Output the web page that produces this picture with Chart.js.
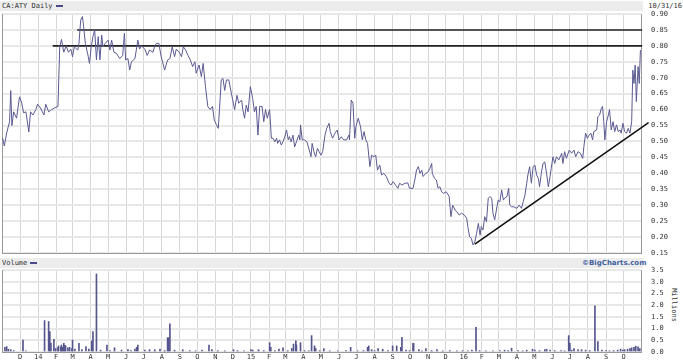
<!DOCTYPE html>
<html>
<head>
<meta charset="utf-8">
<script src="https://cdn.jsdelivr.net/npm/chart.js@4.4.1/dist/chart.umd.min.js"></script>
<style>
  body { margin:0; background:#fff; width:683px; height:360px; overflow:hidden; position:relative; font-family:"DejaVu Sans Mono", monospace; }
  .band { position:absolute; left:0; width:643px; height:10px; background:#ececec; }
  .txt { position:absolute; font-size:7px; color:#333; line-height:10px; white-space:nowrap; }
  .key { display:inline-block; width:7px; height:2px; background:#4a4a8a; vertical-align:middle; margin-left:3px; }
  canvas { position:absolute; left:0; }
</style>
</head>
<body>
<div class="band" style="top:1px"></div>
<div class="txt" style="left:2px;top:1px">CA:ATY Daily<span class="key"></span></div>
<div class="txt" style="right:1px;top:1px">10/31/16</div>
<div class="band" style="top:258px"></div>
<div class="txt" style="left:2px;top:258px">Volume<span class="key"></span></div>
<div class="txt" style="left:582px;top:258px;color:#3f5f9f;font-family:'DejaVu Sans';font-weight:bold;">©BigCharts.com</div>
<div class="txt" style="left:657px;top:300px;transform:rotate(90deg);transform-origin:center;">Millions</div>

<canvas id="price" width="683" height="258" style="top:0"></canvas>
<canvas id="volume" width="683" height="96" style="top:264px"></canvas>

<script>
// day 0 = 2013-10-31, last day = 2016-10-31
const startDate = Date.UTC(2013, 9, 31);
const totalDays = 1096;

// month tick labels, starting Dec 2013
const monthLabels = ['D','14','F','M','A','M','J','J','A','S','O','N',
                     'D','15','F','M','A','M','J','J','A','S','O','N',
                     'D','16','F','M','A','M','J','J','A','S','O'];

// close prices (days since start, value)
const closeDays = [1,4,8,13,15,17,20,25,30,34,37,41,46,49,53,58,61,66,72,75,80,85,90,96,
  99,102,106,110,114,118,121,124,128,130,132,135,138,140,143,148,150,153,156,159,162,165,168,171,173,177,
  182,185,188,192,196,202,207,210,212,216,219,222,228,233,236,239,245,249,253,259,262,265,269,273,279,284,
  288,292,296,299,304,308,311,315,319,323,327,331,333,338,342,345,349,353,357,361,364,368,371,373,376,379,
  382,385,389,393,399,403,406,411,413,416,419,422,426,430,433,436,439,442,446,449,452,455,459,462,465,468,
  471,473,476,479,482,485,488,491,493,496,499,502,505,509,511,512,515,519,523,527,530,532,535,538,541,544,
  547,550,554,557,561,563,567,571,575,578,582,586,591,595,596,599,602,605,607,611,615,618,621,624,627,631,
  634,638,641,644,648,651,655,659,664,667,671,675,679,682,686,691,696,699,705,708,711,714,717,720,722,727,
  731,734,737,738,742,745,748,751,754,757,762,767,770,773,777,780,784,788,793,797,799,802,805,808,811,814,
  817,820,822,825,828,831,834,837,840,842,845,848,851,854,857,860,862,866,869,871,874,878,883,887,891,894,
  897,900,902,905,908,911,914,917,920,922,925,928,931,934,937,940,942,945,948,951,955,960,962,965,968,973,
  977,981,984,988,992,996,998,1001,1004,1007,1010,1013,1015,1020,1022,1025,1028,1030,1032,1034,1037,1040,
  1042,1045,1048,1051,1054,1057,1060,1062,1065,1068,1071,1074,1077,1080,1082,1084,1086,1088,1091,1093,1095];
const closes = [0.511,0.486,0.527,0.562,0.66,0.55,0.593,0.573,0.64,0.62,0.59,0.593,0.53,0.593,0.583,0.60,0.617,0.605,0.583,0.617,0.593,0.60,0.605,0.61,
  0.797,0.82,0.78,0.80,0.78,0.79,0.766,0.797,0.79,0.787,0.808,0.881,0.892,0.86,0.808,0.766,0.745,0.797,0.829,0.85,0.756,0.829,0.756,0.834,0.797,0.808,
  0.818,0.787,0.818,0.78,0.777,0.76,0.77,0.84,0.756,0.76,0.724,0.75,0.76,0.818,0.79,0.80,0.79,0.77,0.787,0.78,0.80,0.808,0.808,0.766,0.724,0.756,
  0.76,0.797,0.766,0.79,0.78,0.766,0.797,0.787,0.77,0.756,0.735,0.75,0.714,0.74,0.703,0.745,0.672,0.61,0.60,0.61,0.567,0.552,0.541,0.60,0.693,0.698,
  0.66,0.693,0.693,0.655,0.60,0.645,0.62,0.63,0.60,0.573,0.614,0.593,0.672,0.635,0.593,0.61,0.52,0.61,0.61,0.562,0.60,0.573,0.60,0.51,0.51,0.499,
  0.51,0.494,0.505,0.489,0.499,0.515,0.536,0.505,0.515,0.499,0.52,0.483,0.499,0.52,0.505,0.552,0.505,0.505,0.499,0.473,0.452,0.494,0.468,0.452,0.478,0.468,
  0.457,0.468,0.52,0.541,0.557,0.531,0.51,0.526,0.536,0.505,0.515,0.505,0.505,0.52,0.505,0.63,0.62,0.51,0.546,0.573,0.546,0.505,0.531,0.505,0.494,0.421,
  0.457,0.452,0.457,0.41,0.426,0.395,0.40,0.39,0.369,0.363,0.374,0.363,0.353,0.369,0.363,0.369,0.37,0.353,0.353,0.379,0.41,0.421,0.40,0.41,0.39,0.40,
  0.405,0.416,0.431,0.40,0.384,0.379,0.353,0.358,0.342,0.337,0.342,0.327,0.264,0.30,0.285,0.28,0.269,0.275,0.269,0.259,0.233,0.201,0.196,0.175,0.185,0.212,
  0.243,0.206,0.233,0.222,0.264,0.248,0.322,0.327,0.322,0.275,0.254,0.285,0.316,0.311,0.348,0.316,0.322,0.327,0.353,0.30,0.295,0.295,0.29,0.30,0.29,0.311,
  0.332,0.369,0.395,0.421,0.369,0.421,0.426,0.395,0.384,0.358,0.40,0.431,0.436,0.40,0.358,0.39,0.416,0.452,0.431,0.452,0.442,0.463,0.431,0.468,0.447,0.473,
  0.463,0.473,0.452,0.468,0.463,0.447,0.484,0.526,0.51,0.52,0.526,0.505,0.531,0.536,0.578,0.583,0.604,0.61,0.567,0.505,0.562,0.583,
  0.60,0.536,0.562,0.531,0.552,0.531,0.536,0.526,0.557,0.531,0.526,0.541,0.526,0.562,0.724,0.682,0.74,0.625,0.735,0.682,0.787];

// daily volume, millions
const volDays = [5,8,11,15,20,36,41,73,80,82,84,89,92,96,97,101,102,104,106,108,109,113,116,120,121,125,132,137,144,149,154,156,162,169,180,185,193,205,216,221,228,231,233,245,253,262,271,279,284,286,288,296,310,322,332,343,355,360,370,382,
  397,404,415,427,430,440,449,459,461,468,475,482,490,497,500,504,505,512,519,526,531,536,538,545,552,562,576,590,598,610,620,627,629,634,639,645,653,662,670,677,684,686,693,699,705,706,715,720,727,737,746,756,
  768,780,790,799,806,813,819,830,842,854,862,868,874,885,893,900,910,914,922,931,934,940,948,959,965,972,974,977,981,988,994,1001,1008,1017,1022,1029,1036,1042,1049,1056,1061,1065,1068,1073,1077,1080,1084,1087,1091,1094];
const volumes = [0.2,0.23,0.12,0.1,0.06,0.51,0.05,1.34,1.3,0.87,0.38,0.54,0.15,0.2,0.26,0.22,0.3,0.2,0.37,0.28,0.25,0.18,0.2,0.15,0.51,0.12,0.37,0.1,0.23,0.12,0.47,0.87,3.33,0.08,0.3,0.06,0.18,0.08,0.1,0.06,0.12,0.2,0.3,0.08,0.1,0.1,0.12,0.06,0.61,0.61,1.2,0.08,0.1,0.06,0.05,0.08,0.3,0.1,0.06,0.05,
  0.1,0.06,0.05,0.1,0.08,0.1,0.06,0.4,0.2,0.06,0.12,0.18,0.06,0.15,0.34,0.48,0.3,0.4,0.06,0.05,0.7,0.26,0.15,0.06,0.15,0.05,0.05,0.06,0.2,0.05,0.06,0.2,0.26,0.1,0.06,0.15,0.12,0.06,0.26,0.26,0.2,0.63,0.08,0.06,0.37,0.37,0.1,0.05,0.15,0.06,0.1,0.05,
  0.06,0.05,0.06,0.05,0.08,1.05,0.06,0.05,0.05,0.06,0.08,0.06,0.16,0.06,0.05,0.08,0.12,0.08,0.06,0.1,0.12,0.08,0.06,0.06,0.05,0.7,0.37,0.08,0.15,0.1,0.1,0.08,0.06,1.97,0.44,0.08,0.06,0.05,0.06,0.08,0.12,0.08,0.1,0.12,0.15,0.18,0.2,0.25,0.22,0.15];

// drawn trend lines
const resistanceLevels = [0.85, 0.80];
const resistanceFrom = [129, 87];
const resistanceTo = 1098;
const supportDays = [811, 1109];
const supportValues = [0.178, 0.559];

const monthDays = monthLabels.map((m, i) => (Date.UTC(2013, 11 + i, 1) - startDate) / 86400000);
const tickFont = { family: 'DejaVu Sans Mono', size: 7 };
const lineColor = '#5a5a92';

const monthTicks = scale => { scale.ticks = monthDays.map(v => ({ value: v })); };

// right axis: invisible tick marks give the gap, so label padding stays 0
const rightGrid = { color: '#e8e8e8', lineWidth: 2, drawTicks: true, tickLength: 10, tickColor: 'rgba(0,0,0,0)' };

// draws left edge of the plot frame
const frame = {
  id: 'frame',
  beforeDatasetsDraw(chart) {
    const { ctx, chartArea: a } = chart;
    ctx.save();
    ctx.strokeStyle = '#999';
    ctx.lineWidth = 1;
    ctx.beginPath();
    ctx.moveTo(a.left + 0.5, a.top);
    ctx.lineTo(a.left + 0.5, a.bottom);
    ctx.stroke();
    ctx.restore();
  }
};

let datasets = [{
  data: closeDays.map((d, i) => ({ x: d, y: closes[i] })),
  borderColor: lineColor, borderWidth: 1, pointRadius: 0, tension: 0
}];
resistanceLevels.forEach((lvl, i) => {
  datasets.push({
    data: [{ x: resistanceFrom[i], y: lvl }, { x: resistanceTo, y: lvl }],
    borderColor: '#222', borderWidth: 1.6, pointRadius: 0, clip: false
  });
});
datasets.push({
  data: supportDays.map((d, i) => ({ x: d, y: supportValues[i] })),
  borderColor: '#111', borderWidth: 1.6, pointRadius: 0, clip: false
});

new Chart(document.getElementById('price'), {
  type: 'line',
  data: { datasets: datasets },
  options: {
    responsive: false, animation: false,
    layout: { padding: { left: 2, top: 14, right: 0, bottom: 5 } },
    plugins: { legend: { display: false }, tooltip: { enabled: false } },
    scales: {
      x: {
        type: 'linear', min: 0, max: totalDays,
        afterBuildTicks: monthTicks,
        afterFit: s => { s.height = 0; },
        ticks: { display: false },
        grid: { color: '#d6d6d6', lineWidth: 1, drawTicks: false },
        border: { color: '#999' }
      },
      y: {
        position: 'right', min: 0.15, max: 0.90,
        afterFit: s => { s.width = 42; },
        ticks: { stepSize: 0.05, padding: 0, font: tickFont, color: '#333', callback: v => v.toFixed(2) },
        grid: rightGrid,
        border: { color: '#999' }
      }
    }
  },
  plugins: [frame]
});

new Chart(document.getElementById('volume'), {
  type: 'bar',
  data: {
    datasets: [{
      data: volDays.map((d, i) => ({ x: d, y: volumes[i] })),
      backgroundColor: '#55558e', barThickness: 1
    }]
  },
  options: {
    responsive: false, animation: false,
    layout: { padding: { left: 2, top: 6, right: 0, bottom: 0 } },
    plugins: { legend: { display: false }, tooltip: { enabled: false } },
    scales: {
      x: {
        type: 'linear', min: 0, max: totalDays, offset: false,
        afterBuildTicks: monthTicks,
        afterFit: s => { s.height = 8; },
        ticks: { autoSkip: false, maxRotation: 0, padding: 1, font: tickFont, color: '#333',
                 callback: v => monthLabels[monthDays.indexOf(v)] },
        grid: { color: '#d6d6d6', lineWidth: 1, drawTicks: false, offset: false },
        border: { color: '#999' }
      },
      y: {
        position: 'right', min: 0, max: 3.5,
        afterFit: s => { s.width = 42; },
        ticks: { stepSize: 0.5, padding: 0, font: tickFont, color: '#333', callback: v => v.toFixed(1) },
        grid: rightGrid,
        border: { color: '#999' }
      }
    }
  },
  plugins: [frame]
});
</script>
</body>
</html>
